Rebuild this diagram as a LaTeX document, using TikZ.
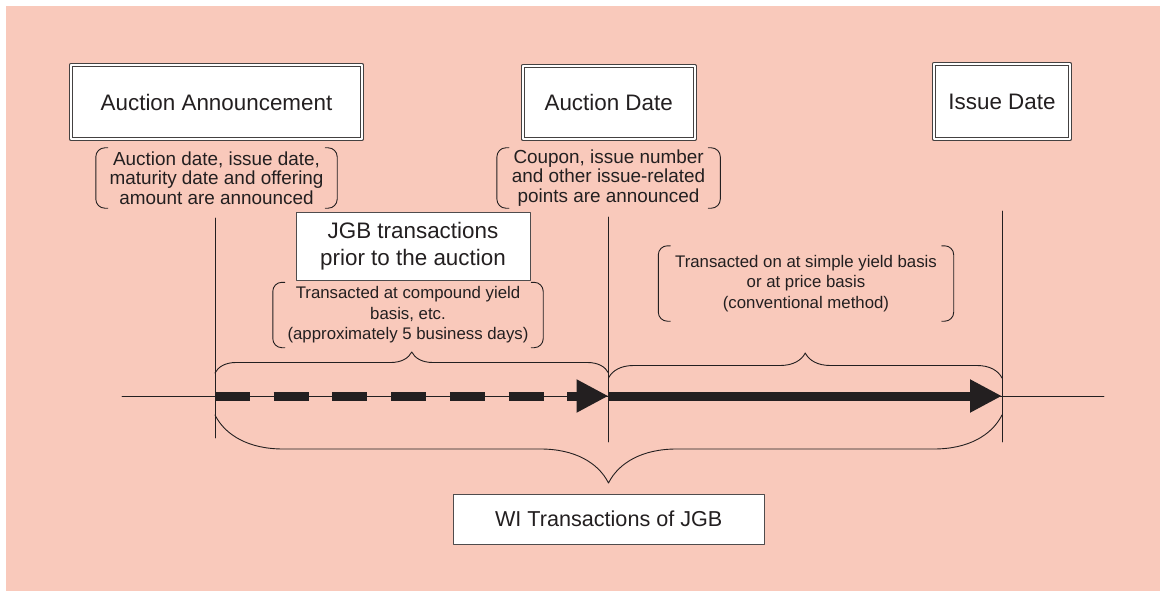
\documentclass[tikz,border=0pt]{standalone}
\usepackage{fontspec}
\setmainfont{Liberation Sans}
\usetikzlibrary{arrows.meta,decorations.pathreplacing}
\definecolor{bgpink}{RGB}{249,201,187}
\definecolor{ink}{RGB}{35,31,32}
\newcommand{\bracketpair}[1]{%
\draw[ink,line width=0.9pt,rounded corners=9pt] ([xshift=12pt]#1.north west) -- (#1.north west) -- (#1.south west) -- ([xshift=12pt]#1.south west);
\draw[ink,line width=0.9pt,rounded corners=9pt] ([xshift=-12pt]#1.north east) -- (#1.north east) -- (#1.south east) -- ([xshift=-12pt]#1.south east);}

\begin{document}
\begin{tikzpicture}[line cap=round,line join=round,x=1pt,y=-1pt,
datebox/.style={draw=ink!85,double=white,double distance=2.2pt,line width=1pt,fill=white,inner sep=0pt,text=ink,font=\fontsize{22.4}{26.7}\selectfont},
plainbox/.style={draw=ink!80,line width=1pt,fill=white,inner sep=0pt,align=center,text=ink,font=\fontsize{22.4}{26.7}\selectfont},
annnote/.style={inner sep=0pt,align=center,text=ink,font=\fontsize{18.9}{19.5}\selectfont},
periodnote/.style={inner sep=0pt,align=center,text=ink,font=\fontsize{16.8}{20.5}\selectfont},
curly/.style={ink,line width=0.9pt,decorate,decoration={brace,amplitude=#1}},
curly down/.style={ink,line width=0.9pt,decorate,decoration={brace,mirror,amplitude=#1}},
thickarrow/.style={ink,line width=9pt,line cap=butt,-{Triangle[length=32pt,width=31pt]}}]
\useasboundingbox (0,0) rectangle (1160,591);
\fill[bgpink] (6,6) rectangle (1160,591);
% date boxes
\node[datebox,minimum width=291pt,minimum height=74pt] (annBox) at (216.5,102) {Auction Announcement};
\node[datebox,minimum width=172pt,minimum height=73pt] (aucBox) at (608.7,102.5) {Auction Date};
\node[datebox,minimum width=136pt,minimum height=75pt] (issBox) at (1002,101.5) {Issue Date};
% announcements
\node[annnote,minimum width=241pt,minimum height=60pt] (annNote) at (216.5,178) {Auction date, issue date,\\ maturity date and offering\\ amount are announced};
\node[annnote,minimum width=223pt,minimum height=60pt] (aucNote) at (608.6,178) {Coupon, issue number\\ and other issue-related\\ points are announced};
\bracketpair{annNote}
\bracketpair{aucNote}
\node[plainbox,minimum width=234pt,minimum height=68pt] (preBox) at (413,246) {JGB transactions\\ prior to the auction};
\node[periodnote,minimum width=270pt,minimum height=65pt] (preNote) at (408,315) {Transacted at compound yield\\ basis, etc.\\ (approximately 5 business days)};
\node[periodnote,minimum width=295pt,minimum height=75pt] (postNote) at (806,283.5) {Transacted on at simple yield basis\\ or at price basis\\ (conventional method)};
\bracketpair{preNote}
\bracketpair{postNote}
% time line
\coordinate (lineL) at (122,396);
\coordinate (lineR) at (1104,396);
\coordinate (tAnn) at (215,396);
\coordinate (tAuc) at (608.5,396);
\coordinate (tIss) at (1002,396);
\draw[ink,line width=0.8pt] (lineL) -- (lineR);
\draw[ink,line width=0.8pt] (215,218) -- (215,438);
\draw[ink,line width=0.8pt] (608.5,217) -- (608.5,442);
\draw[ink,line width=0.8pt] (1002,211) -- (1002,442);
\draw[thickarrow,dash pattern=on 35pt off 23.7pt] (tAnn) -- (tAuc);
\draw[thickarrow] (tAuc) -- (tIss);
% braces
\draw[curly=21pt] (215,373) -- (608.5,373);
\draw[curly=25pt] (608.5,378) -- (1002,378);
\draw[curly down=68pt] (215,415) -- (1002,415);
\node[plainbox,minimum width=311pt,minimum height=50pt,font=\fontsize{21.6}{26}\selectfont] (wiBox) at (608.7,519) {WI Transactions of JGB};
\end{tikzpicture}
\end{document}
